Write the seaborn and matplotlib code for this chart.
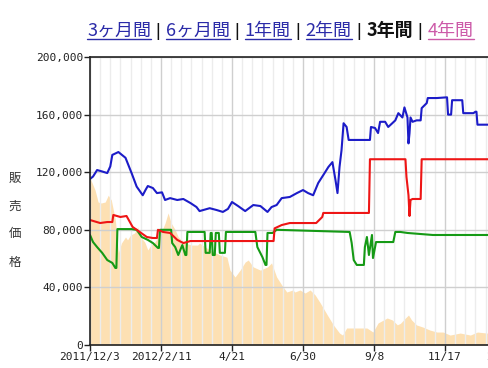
import matplotlib
matplotlib.use("Agg")
import pandas as pd
import matplotlib.pyplot as plt
from matplotlib.lines import Line2D
from matplotlib.ticker import MultipleLocator, FixedLocator, FuncFormatter
import seaborn as sns

# x = days since 2011/12/3, y = price (yen)
blue_days = [0, 3, 7, 12, 17, 20, 22, 28, 35, 41, 46, 52, 55, 57, 62, 66, 71, 74, 79,
             86, 92, 99, 105, 108, 118, 125, 131, 136, 140, 146, 153, 161, 168, 175,
             179, 184, 189, 197, 204, 210, 215, 220, 225, 230, 235, 239, 242, 244, 246,
             248, 250, 253, 255, 276, 277, 281, 284, 286, 291, 294, 298, 301, 304, 308,
             310, 313, 314, 315, 316, 318, 322, 326, 327, 332, 333, 342, 352, 353, 356,
             357, 367, 368, 378, 380, 381, 382, 424]
blue_price = [115300, 117000, 121500, 120500, 119400, 124000, 132000, 134000, 130000,
              119400, 110000, 104000, 108000, 110400, 109000, 105500, 106000, 100700,
              102000, 100700, 101400, 98600, 95800, 93000, 95000, 93700, 92400, 94500,
              99300, 96500, 93000, 97200, 96500, 92400, 95800, 97200, 102000, 102800,
              105500, 107600, 105500, 104000, 112500, 118000, 123600, 127000, 114600,
              105500, 123600, 135400, 154000, 151400, 142400, 142400, 151400, 150700,
              147200, 155000, 155000, 151400, 154000, 156000, 161000, 158000, 165000,
              158000, 140000, 147000, 158000, 155000, 156000, 156000, 164500, 168000,
              171500, 171500, 172000, 160000, 160000, 170000, 170000, 161000, 161000,
              162000, 162000, 153000, 153000]

red_days = [0, 10, 17, 22, 23, 30, 36, 42, 49, 56, 62, 66, 67, 72, 79, 86, 92, 99, 181,
            182, 189, 197, 223, 224, 229, 230, 275, 276, 311, 312, 314, 315, 316, 318,
            326, 327, 424]
red_price = [86800, 84700, 85400, 85400, 90300, 88900, 89600, 82000, 78500, 75000,
             74300, 74300, 80000, 78500, 77800, 73000, 70800, 72200, 72200, 81000, 83300,
             84700, 84700, 85400, 88900, 91700, 91700, 129000, 129000, 116700, 104000,
             89600, 100700, 101400, 101400, 129000, 129000]

green_days = [0, 3, 7, 12, 17, 22, 25, 26, 27, 41, 46, 51, 57, 62, 67, 68, 69, 80, 81,
              84, 87, 91, 94, 95, 96, 113, 114, 118, 119, 120, 121, 123, 124, 127, 128,
              133, 134, 163, 165, 170, 173, 174, 175, 180, 184, 256, 258, 260, 263, 270,
              271, 273, 275, 278, 279, 282, 299, 301, 306, 313, 338, 424]
green_price = [76400, 71500, 68000, 64000, 59000, 57000, 53500, 53500, 80500, 80500,
               80000, 75000, 73000, 70800, 67400, 67400, 80000, 80000, 70800, 68000,
               62500, 69400, 62500, 62500, 78500, 78500, 64000, 64000, 77800, 77800,
               62500, 62500, 77800, 77800, 64000, 64000, 78500, 78500, 68000, 61000,
               55600, 55600, 77800, 77800, 80000, 78500, 70800, 59000, 55600, 55600,
               68000, 75000, 62500, 76400, 60400, 71500, 71500, 78500, 78500, 77800,
               76400, 76400]

area_days = [0, 5, 8, 11, 15, 18, 21, 25, 28, 31, 35, 37, 40, 44, 47, 50, 54, 57, 60,
             64, 67, 70, 74, 77, 80, 84, 87, 94, 100, 106, 108, 118, 128, 135, 138,
             143, 148, 153, 156, 161, 168, 175, 179, 184, 189, 194, 200, 202, 207,
             212, 217, 222, 227, 234, 240, 246, 249, 253, 273, 279, 284, 293, 298,
             303, 306, 311, 314, 317, 322, 328, 335, 342, 348, 355, 365, 375, 382,
             391, 424]
area_value = [116000, 107600, 99300, 98600, 99300, 104000, 100700, 86800, 64000, 70800,
              75000, 73000, 76400, 77800, 82000, 75000, 71500, 66000, 69400, 71500,
              75000, 77800, 84700, 91700, 84700, 80000, 75000, 70800, 69400, 69400,
              70800, 66000, 62500, 61000, 52000, 47200, 52000, 57600, 59000, 54200,
              52000, 54200, 57000, 47200, 41700, 36800, 38200, 36800, 38200, 36100,
              38200, 34700, 29200, 20800, 13900, 8300, 6900, 11800, 11800, 9000,
              15300, 18750, 17400, 14000, 15000, 18750, 20800, 17400, 13900, 12500,
              10400, 9000, 9000, 6900, 8300, 6900, 9000, 8300, 8300]

tick_days = [0, 70, 140, 210, 280, 350, 420]
tick_labels = ["2011/12/3", "2012/2/11", "4/21", "6/30", "9/8", "11/17", "2013/1/26"]
y_ticks = [0, 40000, 80000, 120000, 160000, 200000]
periods = ["3ヶ月間", "6ヶ月間", "1年間", "2年間", "3年間", "4年間"]
period_colors = ["#2b2ba8", "#2b2ba8", "#2b2ba8", "#2b2ba8", "#111111", "#cc5aa8"]
current = "3年間"

sns.set_style("white")
plt.rcParams["font.family"] = ["DejaVu Sans Mono"]

W, H = 488, 368
fig = plt.figure(figsize=(W / 100, H / 100), dpi=100)
px_per_day = 1.0143
ax_left, ax_right, ax_top, ax_bottom = 90, 530, 57, 345
ax = fig.add_axes([ax_left / W, 1 - ax_bottom / H, (ax_right - ax_left) / W,
                   (ax_bottom - ax_top) / H])

ax.fill_between(area_days, area_value, color="#fde0b3", linewidth=0, zorder=1)

blue = pd.DataFrame({"day": blue_days, "price": blue_price})
red = pd.DataFrame({"day": red_days, "price": red_price})
green = pd.DataFrame({"day": green_days, "price": green_price})
for df, col in [(green, "#159a15"), (red, "#ee1515"), (blue, "#1c1cc8")]:
    sns.lineplot(data=df, x="day", y="price", ax=ax, color=col, linewidth=1.5,
                 estimator=None, sort=False)

ax.set_xlim(0, (ax_right - ax_left) / px_per_day)
ax.set_ylim(0, 200000)
ax.xaxis.set_major_locator(FixedLocator(tick_days))
ax.set_xticklabels(tick_labels)
ax.xaxis.set_minor_locator(MultipleLocator(10))
ax.set_yticks(y_ticks)
ax.yaxis.set_major_formatter(FuncFormatter(lambda v, p: f"{int(v):,}"))
ax.set_axisbelow("line")
ax.grid(which="major", color="#cfcfcf", linewidth=1.0)
ax.grid(which="minor", axis="x", color="#ececec", linewidth=1.0)
ax.tick_params(which="major", direction="out", length=4, width=1, color="#222222",
               labelsize=8, labelcolor="#222222", pad=1)
ax.tick_params(which="minor", length=0)
ax.tick_params(axis="x", bottom=True)
ax.tick_params(axis="y", left=True)
ax.set_xlabel("")
ax.set_ylabel("")
for side in ["left", "bottom", "top"]:
    ax.spines[side].set_color("#222222")
    ax.spines[side].set_linewidth(1.2)
ax.spines["right"].set_visible(False)

fig.text(15 / W, 1 - 220 / H, "販\n売\n価\n格", ha="center", va="center",
         fontsize=9, color="#333333", linespacing=2.5,
         family=["Noto Sans CJK JP", "DejaVu Sans"])

# period links row, laid out piece by piece
pieces = []
for i, name in enumerate(periods):
    if i:
        pieces.append((" | ", "#111111", "normal", False))
    pieces.append((name, period_colors[i], "bold" if name == current else "normal",
                   name != current))
fig.canvas.draw()
renderer = fig.canvas.get_renderer()
baseline = 1 - 36 / H
texts = []
for s, col, weight, _ in pieces:
    fam = ["Liberation Sans"] if s == " | " else ["Noto Sans CJK JP", "DejaVu Sans"]
    t = fig.text(0, baseline, s, color=col, fontsize=13, weight=weight, va="baseline",
                 family=fam)
    texts.append(t)
widths = [t.get_window_extent(renderer).width for t in texts]
x = (83 + 478) / 2 - sum(widths) / 2
for t, w, (s, col, weight, under) in zip(texts, widths, pieces):
    t.set_x(x / W)
    if under:
        fig.add_artist(Line2D([x / W, (x + w) / W], [1 - 38.5 / H] * 2, color=col,
                              linewidth=1.0, transform=fig.transFigure))
    x += w

fig.savefig("out.png", dpi=100)
